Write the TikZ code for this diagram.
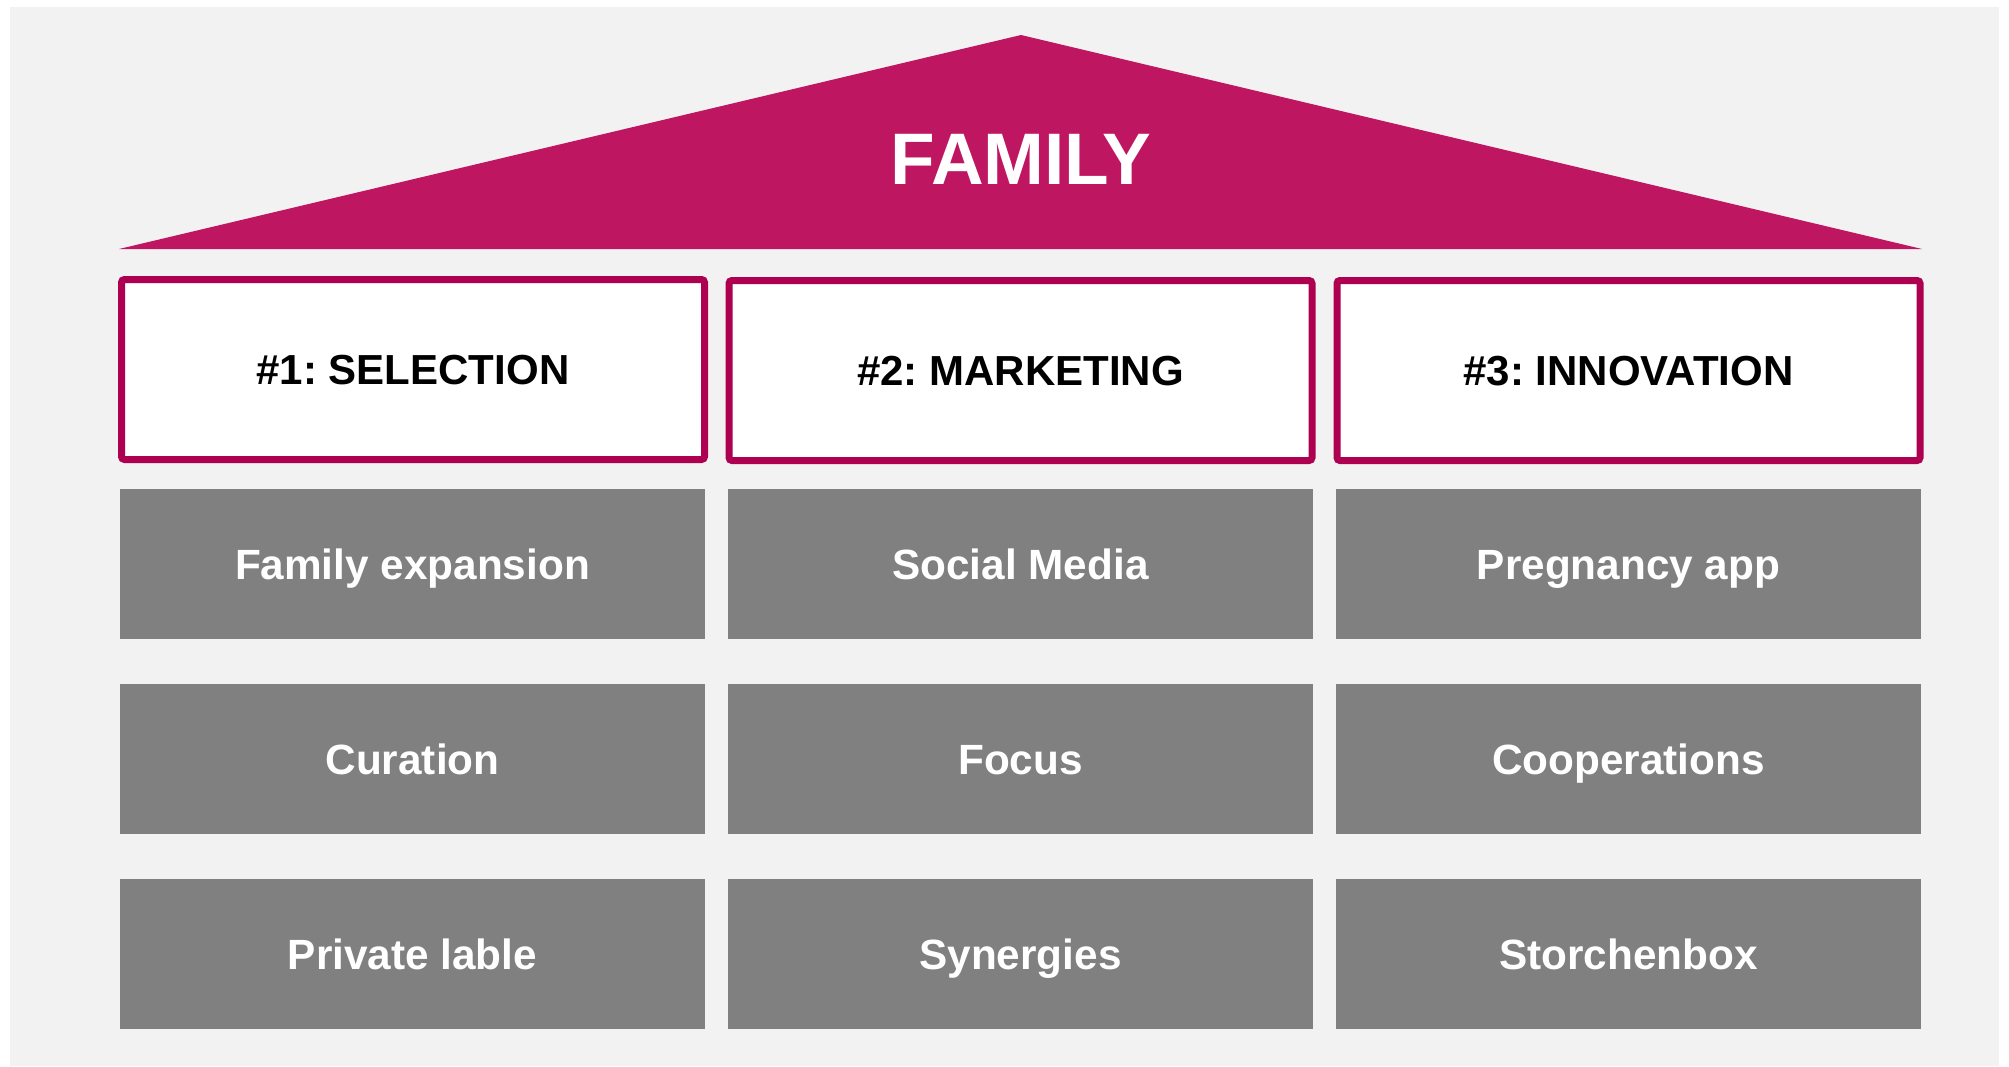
\documentclass[tikz,border=0pt]{standalone}
\usepackage{fontspec}
\setmainfont{Liberation Sans}
\frenchspacing
\definecolor{bgcol}{HTML}{F2F2F2}
\definecolor{roofcol}{HTML}{BE1660}
\definecolor{framecol}{HTML}{AE0050}
\definecolor{boxcol}{HTML}{808080}
\tikzset{
  headbox/.style={draw=framecol, line width=7pt, fill=white, rounded corners=3pt,
    minimum width=583pt, minimum height=180pt, inner sep=0pt,
    text height=30pt, text depth=0pt, text=black,
    font=\fontsize{42}{50}\selectfont\bfseries\frenchspacing},
  itembox/.style={fill=boxcol, draw=none,
    minimum width=585pt, minimum height=150pt, inner sep=0pt,
    text height=30pt, text depth=0pt, text=white,
    font=\fontsize{42.3}{50}\selectfont\bfseries},
  rooflabel/.style={text=white, inner sep=0pt, text height=52pt, text depth=0pt,
    font=\fontsize{73}{80}\selectfont\bfseries}
}
\begin{document}
\begin{tikzpicture}[x=1pt,y=-1pt]
\useasboundingbox (0,0) rectangle (2009,1066);
\fill[white] (0,0) rectangle (2009,1066);
\fill[bgcol] (10,7) rectangle (1999,1066);
% roof
\fill[roofcol] (119,249) -- (1021,35) -- (1922,249) -- cycle;
\node[rooflabel] (roof) at (1021,158.5) {FAMILY};
% headers
\node[headbox] (h1) at (413,369.5) {\#1: SELECTION};
\node[headbox] (h2) at (1020.5,370.5) {\#2: MARKETING};
\node[headbox] (h3) at (1628.5,370.5) {\#3: INNOVATION};
% items
\node[itembox] (a1) at (412.5,564) {Family expansion};
\node[itembox] (b1) at (1020.5,564) {Social Media};
\node[itembox] (c1) at (1628.5,564) {Pregnancy app};
\node[itembox] (a2) at (412.5,759) {Curation};
\node[itembox] (b2) at (1020.5,759) {Focus};
\node[itembox] (c2) at (1628.5,759) {Cooperations};
\node[itembox] (a3) at (412.5,954) {Private lable};
\node[itembox] (b3) at (1020.5,954) {Synergies};
\node[itembox] (c3) at (1628.5,954) {Storchenbox};
\end{tikzpicture}
\end{document}
